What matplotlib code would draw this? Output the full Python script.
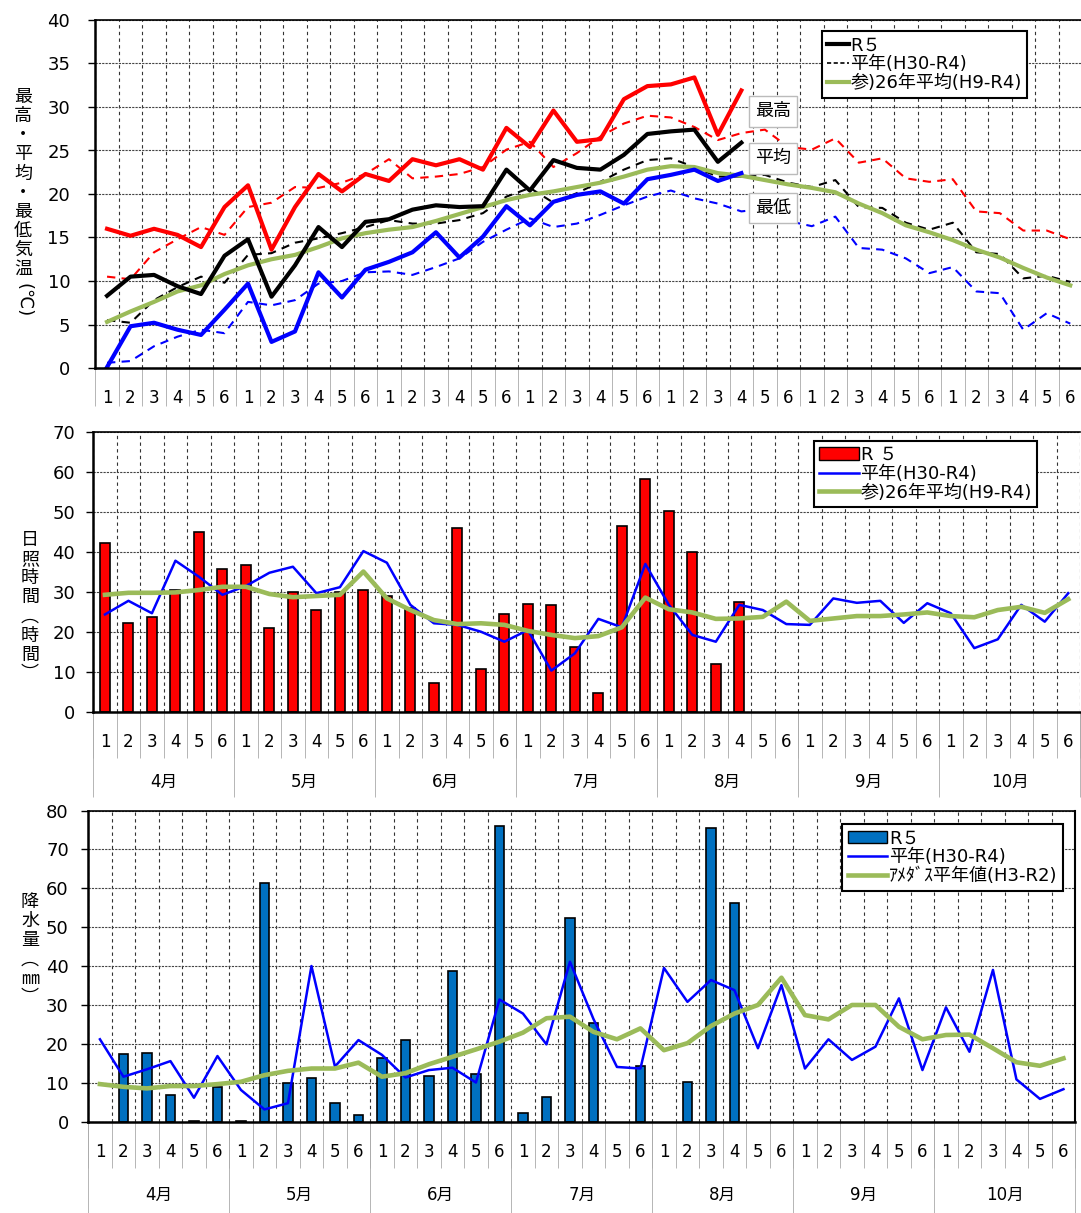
import numpy as np
import matplotlib.pyplot as plt
from matplotlib.lines import Line2D
from matplotlib.patches import Patch

plt.rcParams['font.family'] = ['DejaVu Sans', 'Noto Sans CJK JP']

FS = 12
GREEN = '#9BBB59'

months = ['4月', '5月', '6月', '7月', '8月', '9月', '10月']
pentads = ['1', '2', '3', '4', '5', '6'] * 7

# --- temperature (C) ---
t_max_r5 = [16.0, 15.2, 16.0, 15.3, 13.9, 18.5, 21.0, 13.6, 18.5, 22.3, 20.3, 22.3, 21.5, 24.0,
            23.3, 24.0, 22.8, 27.6, 25.4, 29.6, 26.0, 26.3, 30.9, 32.4, 32.6, 33.4, 26.8, 31.9]
t_avg_r5 = [8.3, 10.5, 10.7, 9.4, 8.5, 12.9, 14.8, 8.2, 11.8, 16.2, 13.9, 16.8, 17.1, 18.2,
            18.7, 18.5, 18.6, 22.8, 20.4, 23.9, 23.0, 22.8, 24.5, 26.9, 27.2, 27.4, 23.7, 25.9]
t_min_r5 = [0.1, 4.8, 5.2, 4.4, 3.8, 6.7, 9.7, 3.0, 4.2, 11.0, 8.1, 11.3, 12.2, 13.3,
            15.6, 12.7, 15.1, 18.6, 16.4, 19.1, 19.9, 20.3, 18.9, 21.7, 22.2, 22.8, 21.5, 22.4]
t_max_norm = [10.5, 10.2, 13.3, 14.8, 16.2, 15.3, 18.5, 19.0, 20.8, 20.7, 21.3, 22.3, 24.0, 21.8,
              22.0, 22.3, 23.1, 25.1, 26.0, 23.1, 24.7, 26.6, 28.1, 29.0, 28.8, 27.7, 26.2, 27.0,
              27.4, 25.4, 25.1, 26.4, 23.6, 24.1, 21.8, 21.4, 21.7, 18.0, 17.8, 15.8, 15.8, 14.8]
t_avg_norm = [5.5, 5.2, 7.8, 9.3, 10.5, 9.8, 13.0, 13.2, 14.4, 14.9, 15.5, 16.2, 17.0, 16.6,
              16.6, 17.0, 17.8, 19.7, 20.7, 19.0, 20.1, 21.4, 22.8, 23.9, 24.1, 23.1, 22.0, 22.0,
              22.2, 21.3, 20.8, 21.6, 18.5, 18.4, 16.7, 15.9, 16.7, 13.3, 13.1, 10.3, 10.6, 9.9]
t_min_norm = [0.6, 0.8, 2.5, 3.6, 4.4, 4.0, 7.6, 7.2, 7.8, 9.7, 10.0, 11.0, 11.1, 10.7,
              11.6, 12.6, 14.5, 15.9, 17.2, 16.2, 16.6, 17.6, 18.7, 19.7, 20.4, 19.5, 18.9, 18.0,
              18.3, 16.9, 16.3, 17.4, 13.8, 13.6, 12.6, 10.9, 11.6, 8.8, 8.6, 4.4, 6.3, 5.1]
t_avg_26y = [5.3, 6.5, 7.6, 8.8, 9.5, 10.8, 11.8, 12.5, 13.0, 13.9, 14.9, 15.5, 15.9, 16.2,
             16.9, 17.7, 18.5, 19.3, 19.9, 20.3, 20.8, 21.3, 22.0, 22.8, 23.2, 23.1, 22.4, 22.1,
             21.6, 21.1, 20.7, 20.2, 18.9, 17.8, 16.4, 15.6, 14.7, 13.6, 12.7, 11.5, 10.4, 9.5]

# --- sunshine (hours) ---
sun_r5 = [42.1, 22.3, 23.8, 30.5, 44.9, 35.8, 36.7, 20.9, 30.1, 25.5, 30.1, 30.5, 29.1, 25.9,
          7.2, 45.9, 10.8, 24.6, 27.1, 26.7, 16.4, 4.9, 46.5, 58.1, 50.2, 40.0, 12.1, 27.6]
sun_norm = [24.4, 27.8, 24.7, 37.8, 33.8, 29.3, 31.5, 34.8, 36.3, 29.7, 31.2, 40.2, 37.3, 26.8,
            22.2, 21.8, 20.1, 17.6, 20.5, 10.4, 14.7, 23.3, 21.2, 37.0, 26.8, 19.3, 17.6, 26.8,
            25.5, 22.0, 21.8, 28.4, 27.3, 27.8, 22.3, 27.2, 24.7, 16.0, 18.2, 26.8, 22.6, 29.7]
sun_26y = [29.3, 29.8, 29.8, 29.9, 30.5, 31.3, 31.3, 29.5, 28.7, 29.0, 29.3, 35.1, 28.4, 25.5,
           23.0, 22.0, 22.2, 21.8, 20.3, 19.3, 18.5, 19.0, 21.2, 28.6, 25.7, 24.9, 23.3, 23.4,
           23.8, 27.6, 22.8, 23.4, 24.0, 24.0, 24.4, 24.9, 24.0, 23.7, 25.5, 26.3, 24.8, 28.2]

# --- precipitation (mm) ---
rain_r5 = [0, 17.4, 17.9, 6.9, 0.4, 9.0, 0.4, 61.4, 10.0, 11.4, 4.9, 2.0, 16.6, 21.0,
           12.0, 38.9, 12.3, 76.0, 2.5, 6.5, 52.5, 25.5, 0, 14.5, 0, 10.3, 75.4, 56.3]
rain_norm = [21.3, 11.7, 13.6, 15.7, 6.3, 17.0, 8.3, 3.3, 4.9, 40.1, 14.3, 21.1, 17.3, 11.5,
             13.4, 14.0, 10.2, 31.5, 27.9, 20.0, 41.2, 26.5, 14.2, 13.8, 39.6, 30.9, 36.5, 33.9,
             19.0, 35.2, 13.8, 21.3, 16.0, 19.4, 31.8, 13.4, 29.5, 18.1, 39.1, 11.0, 6.0, 8.5]
rain_amedas = [9.8, 9.1, 8.7, 9.3, 9.3, 9.8, 10.4, 12.1, 13.2, 13.8, 13.8, 15.3, 11.7, 12.6,
               14.9, 16.8, 18.7, 20.7, 23.0, 26.7, 27.1, 23.2, 21.3, 24.1, 18.5, 20.3, 24.7, 27.9,
               30.1, 37.1, 27.5, 26.4, 30.1, 30.1, 24.5, 21.3, 22.4, 22.5, 19.0, 15.4, 14.5, 16.4]

N = len(pentads)
x_all = np.arange(N)
x_r5 = np.arange(len(sun_r5))

W, H = 1081, 1213
fig = plt.figure(figsize=(W / 100, H / 100), dpi=100)


def px_axes(left, right, top, bottom):
    return fig.add_axes([left / W, 1 - bottom / H, (right - left) / W, (bottom - top) / H])


def setup(ax, ymax, ystep, sep_len, num_pad, ypad, two_level=False, month_len=0, month_pad=0,
          right_spine=False):
    ax.set_xlim(-0.5, N - 0.5)
    ax.set_ylim(0, ymax)
    ax.set_yticks(np.arange(0, ymax + 1, ystep))
    ax.set_xticks(x_all, pentads)
    ax.set_xticks(np.arange(N + 1) - 0.5, minor=True)
    ax.tick_params(axis='x', which='major', length=0, pad=num_pad, labelsize=FS)
    ax.tick_params(axis='x', which='minor', length=sep_len, width=0.6, color='#aaaaaa')
    ax.tick_params(axis='y', which='major', length=5, width=1, direction='out',
                   pad=ypad, labelsize=FS + 1)
    ax.grid(which='minor', axis='x', ls=(0, (3, 3)), color='#333333', lw=0.8)
    ax.grid(which='major', axis='y', ls=(0, (2, 1)), color='#444444', lw=0.8)
    ax.set_axisbelow(True)
    for s in ['left', 'bottom']:
        ax.spines[s].set_linewidth(1.8)
    ax.spines['top'].set_linewidth(1.2)
    ax.spines['right'].set_visible(right_spine)
    if two_level:
        sec = ax.secondary_xaxis('bottom')
        sec.set_xticks(np.arange(0, N + 1, 6) - 0.5, [''] * 8)
        sec.set_xticks(np.arange(7) * 6 + 2.5, months, minor=True)
        sec.tick_params(which='major', length=month_len, width=0.6, color='#aaaaaa')
        sec.tick_params(which='minor', length=0, pad=month_pad, labelsize=FS)
        sec.spines['bottom'].set_visible(False)


def legend(ax, handles, labels, anchor, hl):
    lg = ax.legend(handles, labels, loc='upper left', bbox_to_anchor=anchor, fontsize=FS + 1,
                   frameon=True, fancybox=False, framealpha=1, edgecolor='black',
                   handlelength=hl, handletextpad=0.1, borderpad=0.3, labelspacing=0.05,
                   borderaxespad=0)
    lg.get_frame().set_linewidth(1.5)


# ---------------- temperature ----------------
ax1 = px_axes(95.3, 1082, 20, 368)
setup(ax1, 40, 5, sep_len=27, num_pad=15, ypad=13)
ax1.plot(x_all, t_max_norm, color='red', lw=1.5, ls=(0, (4, 3)))
ax1.plot(x_all, t_avg_norm, color='black', lw=1.5, ls=(0, (4, 3)))
ax1.plot(x_all, t_min_norm, color='blue', lw=1.5, ls=(0, (4, 3)))
ax1.plot(x_all, t_avg_26y, color=GREEN, lw=3)
ax1.plot(x_r5, t_max_r5, color='red', lw=3)
ax1.plot(x_r5, t_avg_r5, color='black', lw=3)
ax1.plot(x_r5, t_min_r5, color='blue', lw=3)
for txt, yv in [('最高', 29.5), ('平均', 24.1), ('最低', 18.4)]:
    ax1.text(28.35, yv, txt, ha='center', va='center', fontsize=FS + 1,
             bbox=dict(boxstyle='square,pad=0.35', fc='white', ec='#bbbbbb', lw=1))
legend(ax1,
       [Line2D([], [], color='black', lw=3), Line2D([], [], color='black', lw=1.2, ls=(0, (2.5, 1.5))),
        Line2D([], [], color=GREEN, lw=3)],
       ['R５', '平年(H30-R4)', '参)26年平均(H9-R4)'], (0.736, 0.968), 1.2)

fig.text(23 / W, 1 - 88 / H, '\n'.join('最高・平均・最低気温'), ha='center', va='top',
         fontsize=FS + 1, linespacing=1.08)
fig.text(23 / W, 1 - 300 / H, '(℃)', ha='center', va='center', rotation=-90, fontsize=FS + 1)

# ---------------- sunshine ----------------
ax2 = px_axes(93.2, 1080, 431.6, 712.3)
setup(ax2, 70, 10, sep_len=33, num_pad=15, ypad=8, two_level=True, month_len=61, month_pad=44)
ax2.bar(x_r5, sun_r5, width=0.43, color='red', edgecolor='black', lw=1.2)
ax2.plot(x_all, sun_norm, color='blue', lw=1.8)
ax2.plot(x_all, sun_26y, color=GREEN, lw=3.3)
legend(ax2,
       [Patch(fc='red', ec='black', lw=1), Line2D([], [], color='blue', lw=1.8),
        Line2D([], [], color=GREEN, lw=3.3)],
       ['R ５', '平年(H30-R4)', '参)26年平均(H9-R4)'], (0.730, 0.968), 2.2)
fig.text(30 / W, 1 - 607 / H, '\n'.join('日照時間︵時間︶'), ha='center', va='center',
         fontsize=FS + 1, linespacing=1.08)

# ---------------- precipitation ----------------
ax3 = px_axes(88.2, 1075.2, 810.5, 1122.3)
setup(ax3, 80, 10, sep_len=33, num_pad=15, ypad=9, two_level=True, month_len=70, month_pad=46,
      right_spine=True)
ax3.spines['right'].set_linewidth(1.5)
rain_arr = np.array(rain_r5, dtype=float)
wet = rain_arr > 0  # no bar drawn for dry pentads
ax3.bar(x_r5[wet], rain_arr[wet], width=0.40, color='#0070C0', edgecolor='black', lw=1.2)
ax3.plot(x_all, rain_norm, color='blue', lw=1.8)
ax3.plot(x_all, rain_amedas, color=GREEN, lw=3.3)
legend(ax3,
       [Patch(fc='#0070C0', ec='black', lw=1), Line2D([], [], color='blue', lw=1.8),
        Line2D([], [], color=GREEN, lw=3.3)],
       ['R５', '平年(H30-R4)', 'ｱﾒﾀﾞｽ平年値(H3-R2)'], (0.764, 0.957), 2.2)
fig.text(30 / W, 1 - 950 / H, '\n'.join('降水量︵㎜︶'), ha='center', va='center',
         fontsize=FS + 1, linespacing=1.08)

fig.savefig('out.png', dpi=100)
